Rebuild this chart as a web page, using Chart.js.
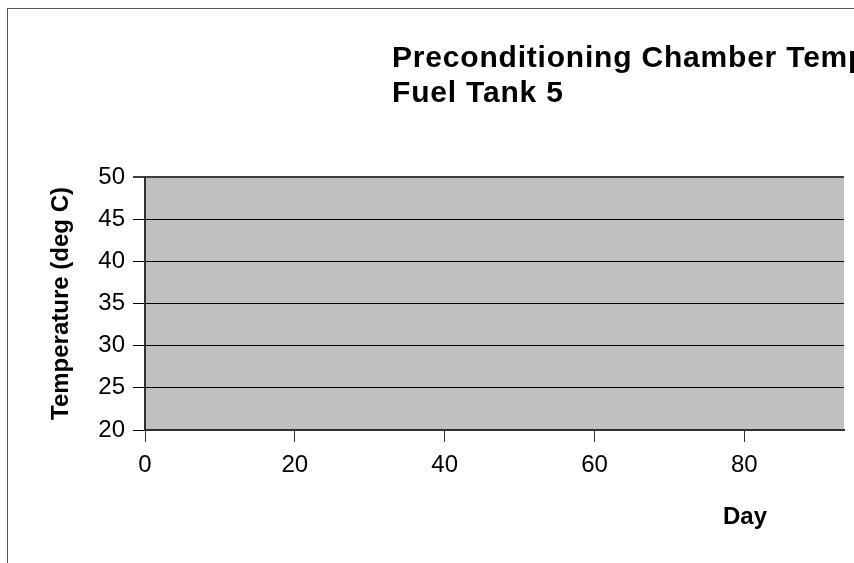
<!DOCTYPE html>
<html>
<head>
<meta charset="utf-8">
<script src="https://cdn.jsdelivr.net/npm/chart.js@4"></script>
<style>
  html, body { margin: 0; padding: 0; background: #ffffff; }
  #wrap { position: relative; width: 854px; height: 563px; overflow: hidden; }
</style>
</head>
<body>
<div id="wrap"><canvas id="c" width="854" height="563"></canvas></div>
<script>
// ---- data ----
const titleLines = ["Preconditioning Chamber Temperature", "Fuel Tank 5"];
const xTitle = "Day";
const yTitle = "Temperature (deg C)";
const days = [];          // no points visible in the reference
const temperatures = [];  // no points visible in the reference
const xTicks = [0, 20, 40, 60, 80];
const yTicks = [20, 25, 30, 35, 40, 45, 50];
const xMin = 0, xMax = 93.3;
const yMin = 20, yMax = 50;

const FONT = "'Liberation Sans', Arial, sans-serif";

const decor = {
  id: 'decor',
  beforeDraw(chart) {
    const ctx = chart.ctx;
    const a = chart.chartArea;
    ctx.save();
    // outer frame
    ctx.strokeStyle = '#5a5a5a';
    ctx.lineWidth = 1;
    ctx.strokeRect(7.5, 8.5, 2000, 2000);
    // plot background
    ctx.fillStyle = '#c0c0c0';
    ctx.fillRect(a.left, a.top, a.right - a.left, a.bottom - a.top);
    ctx.restore();
  },
  afterDraw(chart) {
    const ctx = chart.ctx;
    ctx.save();
    ctx.fillStyle = '#000000';
    ctx.textAlign = 'left';
    ctx.textBaseline = 'alphabetic';
    ctx.font = "bold 30px " + FONT;
    if ('letterSpacing' in ctx) ctx.letterSpacing = '0.8px';
    ctx.fillText(titleLines[0], 392, 67);
    ctx.fillText(titleLines[1], 392, 102);
    if ('letterSpacing' in ctx) ctx.letterSpacing = '0px';
    ctx.font = "bold 24px " + FONT;
    ctx.textAlign = 'center';
    ctx.fillText(xTitle, 745, 524);
    ctx.restore();
  }
};

new Chart(document.getElementById('c'), {
  type: 'scatter',
  data: {
    datasets: [{
      label: titleLines[1],
      data: days.map((d, i) => ({ x: d, y: temperatures[i] })),
      borderColor: '#000080',
      backgroundColor: '#000080',
      pointRadius: 3,
      showLine: true
    }]
  },
  options: {
    responsive: false,
    animation: false,
    events: [],
    layout: { padding: { left: 0, top: 177, right: 10, bottom: 0 } },
    plugins: {
      legend: { display: false },
      title: { display: false },
      tooltip: { enabled: false }
    },
    scales: {
      x: {
        type: 'linear',
        min: xMin,
        max: xMax,
        afterBuildTicks(scale) { scale.ticks = xTicks.map(v => ({ value: v })); },
        afterFit(scale) { scale.height = 133; },
        border: { display: true, color: '#303030', width: 2 },
        grid: {
          drawOnChartArea: false,
          drawTicks: true,
          tickLength: 12,
          color: '#303030',
          lineWidth: 1
        },
        ticks: {
          color: '#000000',
          font: { family: FONT, size: 24 },
          padding: 9,
          maxRotation: 0,
          autoSkip: false
        },
        title: { display: false }
      },
      y: {
        type: 'linear',
        min: yMin,
        max: yMax,
        afterBuildTicks(scale) { scale.ticks = yTicks.map(v => ({ value: v })); },
        afterFit(scale) { scale.width = 145; },
        border: { display: true, color: '#303030', width: 2 },
        grid: {
          drawOnChartArea: true,
          drawTicks: true,
          tickLength: 12,
          color: (c) => (c.tick && c.tick.value === yMax) ? '#404040' : '#000000',
          lineWidth: (c) => (c.tick && c.tick.value === yMax) ? 2 : 1
        },
        ticks: {
          color: '#000000',
          font: { family: FONT, size: 24 },
          padding: 8,
          autoSkip: false
        },
        title: {
          display: true,
          text: yTitle,
          color: '#000000',
          font: { family: FONT, size: 24, weight: 'bold' },
          padding: { top: 47, bottom: 0 }
        }
      }
    }
  },
  plugins: [decor]
});
</script>
</body>
</html>
